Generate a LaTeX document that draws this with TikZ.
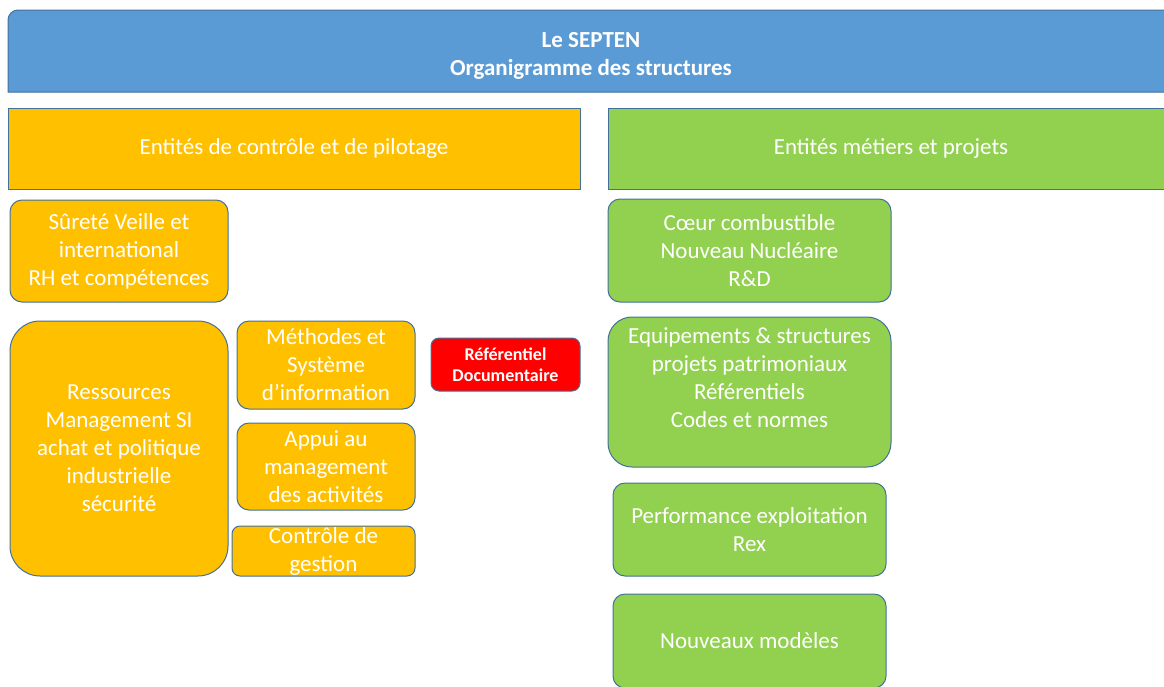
\documentclass[tikz,border=0pt]{standalone}
\usepackage{fontspec}
\setmainfont{Carlito}
\usetikzlibrary{positioning}
\definecolor{septenblue}{HTML}{5B9BD5}
\definecolor{pilotorange}{HTML}{FFC000}
\definecolor{metiergreen}{HTML}{92D050}
\definecolor{refred}{HTML}{FF0000}
\definecolor{edgeblue}{HTML}{41719C}

\begin{document}
\begin{tikzpicture}[x=1pt, y=-1pt,
    box/.style={draw=edgeblue, line width=1pt, text=white, align=center, inner sep=0pt, font=\fontsize{23}{28}\selectfont},
    orbox/.style={box, fill=pilotorange, rounded corners=12pt},
    grbox/.style={box, fill=metiergreen, rounded corners=12pt}]
    \useasboundingbox (0,0) rectangle (1164,686);
    \clip (0,0) rectangle (1164,686);

    % bandeaux
    \draw[draw=edgeblue, line width=1pt, fill=septenblue] (1174,92) -- (8,92) -- (8,20) .. controls (8,14.5) and (12.5,10) .. (18,10) -- (1174,10) -- cycle;
    \node[text=white, align=center, inner sep=0pt, font=\bfseries\fontsize{23}{28}\selectfont] (title) at (591,56) {Le SEPTEN\\Organigramme des structures};
    \node[box, fill=pilotorange, minimum width=572pt, minimum height=81pt] (pilotage) at (294,148.5) {Entités de contrôle et de pilotage};
    \node[box, fill=metiergreen, minimum width=566pt, minimum height=81pt] (metiers) at (891,148.5) {Entités métiers et projets};

    % controle et pilotage
    \node[orbox, minimum width=218pt, minimum height=102pt] (surete) at (119,251) {Sûreté Veille et\\international\\RH et compétences};
    \node[orbox, rounded corners=30pt, minimum width=218pt, minimum height=255pt] (ressources) at (119,448.5) {Ressources\\Management SI\\achat et politique\\industrielle\\sécurité};
    \node[orbox, minimum width=178pt, minimum height=88pt] (methodes) at (326,365) {Méthodes et\\Système\\d’information};
    \node[orbox, minimum width=178pt, minimum height=87pt] (appui) at (326,466.5) {Appui au\\management\\des activités};
    \node[orbox, rounded corners=8pt, minimum width=183pt, minimum height=50pt] (gestion) at (323.5,551) {Contrôle de\\gestion};
    \node[box, fill=refred, rounded corners=8pt, minimum width=149pt, minimum height=53pt, font=\bfseries\fontsize{18}{21}\selectfont] (referentiel) at (505.5,364.5) {Référentiel\\Documentaire};

    % metiers et projets
    \node[grbox, minimum width=283pt, minimum height=103pt] (coeur) at (749.5,250.5) {Cœur combustible\\Nouveau Nucléaire\\R\&D};
    \node[grbox, rounded corners=24pt, minimum width=283pt, minimum height=150pt] (equipements) at (749.5,392) {Equipements \& structures\\projets patrimoniaux\\Référentiels\\Codes et normes\\\mbox{}};
    \node[grbox, minimum width=273pt, minimum height=93pt] (performance) at (749.5,529.5) {Performance exploitation\\Rex};
    \node[grbox, minimum width=273pt, minimum height=94pt] (modeles) at (749.5,641) {Nouveaux modèles};
\end{tikzpicture}
\end{document}
